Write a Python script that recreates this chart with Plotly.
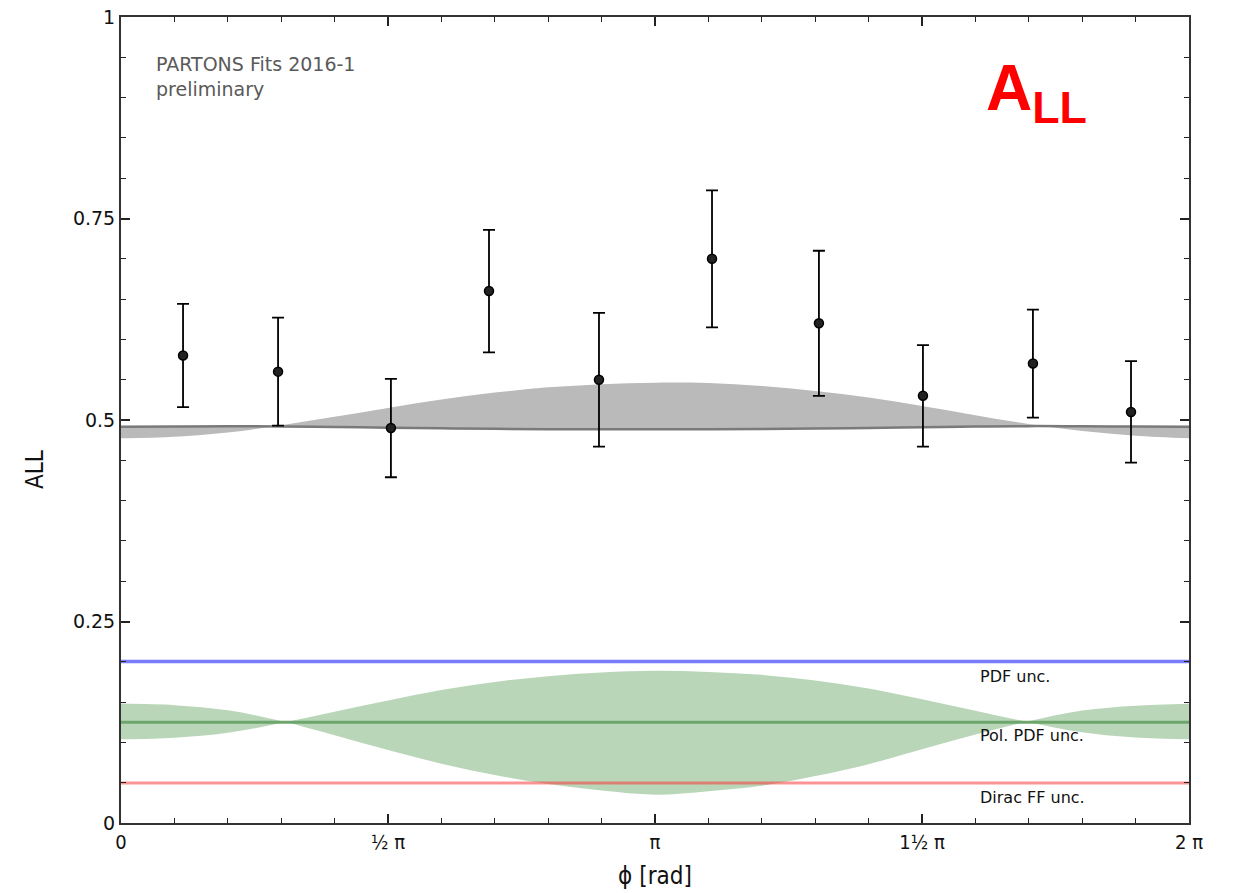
import numpy as np
import plotly.graph_objects as go

PI = np.pi

# Data points (phi in rad, A_LL, error)
phi_pts = [0.365, 0.924, 1.588, 2.165, 2.812, 3.477, 4.106, 4.718, 5.365, 5.942]
all_vals = [0.58, 0.56, 0.49, 0.66, 0.55, 0.70, 0.62, 0.53, 0.57, 0.51]
all_errs = [0.064, 0.067, 0.061, 0.076, 0.083, 0.085, 0.090, 0.063, 0.067, 0.063]

# Curve grid (in units of pi)
grid_pi = [0.0, 0.1, 0.2, 0.3, 0.4, 0.5, 0.6, 0.7, 0.8, 0.9, 1.0,
           1.1, 1.2, 1.3, 1.4, 1.5, 1.6, 1.7, 1.8, 1.9, 2.0]

# Gray (total) fit: central line and the other band boundary
gray_line = [0.4917, 0.4920, 0.4922, 0.4920, 0.4912, 0.4905, 0.4897, 0.4890, 0.4886, 0.4884, 0.4884,
             0.4885, 0.4888, 0.4894, 0.4902, 0.4910, 0.4918, 0.4924, 0.4922, 0.4919, 0.4917]
gray_edge = [0.4773, 0.4793, 0.4845, 0.4935, 0.5040, 0.5150, 0.5255, 0.5340, 0.5405, 0.5445, 0.5463,
             0.5458, 0.5422, 0.5360, 0.5280, 0.5175, 0.5060, 0.4950, 0.4862, 0.4805, 0.4773]

# Pol. PDF uncertainty band (two crossing boundaries) and centre
green_a = [0.1482, 0.1462, 0.1398, 0.1265, 0.1088, 0.0905, 0.0736, 0.0596, 0.0484, 0.0402, 0.0352,
           0.0395, 0.0462, 0.0582, 0.0730, 0.0915, 0.1098, 0.1262, 0.1395, 0.1455, 0.1480]
green_b = [0.1038, 0.1058, 0.1120, 0.1240, 0.1380, 0.1520, 0.1650, 0.1750, 0.1822, 0.1868, 0.1890,
           0.1875, 0.1838, 0.1768, 0.1668, 0.1535, 0.1392, 0.1250, 0.1125, 0.1060, 0.1038]
green_line = [0.1250, 0.1250]
blue_line = [0.2005, 0.2005]
red_line = [0.0497, 0.0497]
line_x = [0.0, 2 * PI]

x_ticks = [0, 0.5 * PI, PI, 1.5 * PI, 2 * PI]
x_ticktext = ["0", "½ π", "π", "1½ π", "2 π"]
y_ticks = [0, 0.25, 0.5, 0.75, 1]
y_ticktext = ["0", "0.25", "0.5", "0.75", "1"]

grid_x = [g * PI for g in grid_pi]

fig = go.Figure()

# gray band
fig.add_trace(go.Scatter(x=grid_x, y=gray_line, mode="lines", line=dict(width=0, shape="spline"),
                         showlegend=False, hoverinfo="skip"))
fig.add_trace(go.Scatter(x=grid_x, y=gray_edge, mode="lines", line=dict(width=0, shape="spline"),
                         fill="tonexty", fillcolor="#bababa", showlegend=False, hoverinfo="skip"))
fig.add_trace(go.Scatter(x=grid_x, y=gray_line, mode="lines",
                         line=dict(width=2.5, color="#7a7a7a", shape="spline"),
                         showlegend=False, hoverinfo="skip"))

# blue PDF line
fig.add_trace(go.Scatter(x=line_x, y=blue_line, mode="lines",
                         line=dict(width=3.5, color="rgba(40,40,250,0.62)"),
                         showlegend=False, hoverinfo="skip"))

# green band
fig.add_trace(go.Scatter(x=grid_x, y=green_a, mode="lines", line=dict(width=0, shape="spline"),
                         showlegend=False, hoverinfo="skip"))
fig.add_trace(go.Scatter(x=grid_x, y=green_b, mode="lines", line=dict(width=0, shape="spline"),
                         fill="tonexty", fillcolor="rgba(115,173,115,0.5)",
                         showlegend=False, hoverinfo="skip"))
fig.add_trace(go.Scatter(x=line_x, y=green_line, mode="lines",
                         line=dict(width=3, color="#6da66d"),
                         showlegend=False, hoverinfo="skip"))

# red Dirac FF line
fig.add_trace(go.Scatter(x=line_x, y=red_line, mode="lines",
                         line=dict(width=3, color="rgba(245,60,60,0.55)"),
                         showlegend=False, hoverinfo="skip"))

# data points
fig.add_trace(go.Scatter(x=phi_pts, y=all_vals, mode="markers",
                         marker=dict(symbol="circle", size=9, color="#222222",
                                     line=dict(color="#000000", width=1.5)),
                         error_y=dict(type="data", array=all_errs, color="#000000",
                                      thickness=1.8, width=6),
                         showlegend=False))

xtick_font = dict(family="DejaVu Sans Condensed, Liberation Sans Narrow, DejaVu Sans, sans-serif",
                  size=20, color="#111")
ytick_font = dict(family="DejaVu Sans, Noto Sans, sans-serif", size=19, color="#111")

fig.update_xaxes(range=[0, 2 * PI], tickmode="array", tickvals=x_ticks, ticktext=x_ticktext,
                 ticks="inside", ticklen=9, tickwidth=1.5, tickcolor="#222",
                 showline=True, linecolor="#333", linewidth=2, mirror="allticks",
                 showgrid=False, zeroline=False, tickfont=xtick_font, automargin=False,
                 minor=dict(ticks="inside", ticklen=5, tickwidth=1.2, tickcolor="#222",
                            tickmode="linear", tick0=0, dtick=PI / 10, showgrid=False),
                 title=dict(text="ϕ [rad]",
                            font=dict(family="DejaVu Sans Condensed, DejaVu Sans, sans-serif",
                                      size=24, color="#111"),
                            standoff=14))
fig.update_yaxes(range=[0, 1], tickmode="array", tickvals=y_ticks, ticktext=y_ticktext,
                 ticks="inside", ticklen=9, tickwidth=1.5, tickcolor="#222",
                 showline=True, linecolor="#333", linewidth=2, mirror="allticks",
                 showgrid=False, zeroline=False, tickfont=ytick_font, automargin=False,
                 minor=dict(ticks="inside", ticklen=5, tickwidth=1.2, tickcolor="#222",
                            tickmode="linear", tick0=0, dtick=0.05, showgrid=False))

# y-axis title (placed like the reference, slightly below axis centre)
fig.add_annotation(x=-0.0805, y=0.438, xref="paper", yref="paper", xanchor="center", yanchor="middle",
                   showarrow=False, textangle=-90, text="ALL",
                   font=dict(family="DejaVu Sans Condensed, DejaVu Sans, sans-serif", size=24, color="#111"))

fig.add_annotation(x=0.031, y=0.958, xref="paper", yref="paper", xanchor="left", yanchor="top",
                   align="left", showarrow=False,
                   text="PARTONS Fits 2016-1<br>preliminary",
                   font=dict(family="DejaVu Sans, sans-serif", size=19, color="#5a5a5a"))
fig.add_annotation(x=0.857, y=0.907, xref="paper", yref="paper", xanchor="center", yanchor="middle",
                   showarrow=False, text="<b>A<sub>LL</sub></b>",
                   font=dict(family="Liberation Sans, Arial, sans-serif", size=64, color="#ff0000"))

label_font = dict(family="DejaVu Sans, sans-serif", size=16, color="#111")
fig.add_annotation(x=0.8024, y=0.182, xref="paper", yref="y", xanchor="left", yanchor="middle",
                   showarrow=False, text="PDF unc.", font=label_font)
fig.add_annotation(x=0.8024, y=0.108, xref="paper", yref="y", xanchor="left", yanchor="middle",
                   showarrow=False, text="Pol. PDF unc.", font=label_font)
fig.add_annotation(x=0.8024, y=0.032, xref="paper", yref="y", xanchor="left", yanchor="middle",
                   showarrow=False, text="Dirac FF unc.", font=label_font)

fig.update_layout(width=1236, height=893, margin=dict(l=121, r=47, t=17, b=70),
                  plot_bgcolor="white", paper_bgcolor="white")

fig.write_html("out.html")
